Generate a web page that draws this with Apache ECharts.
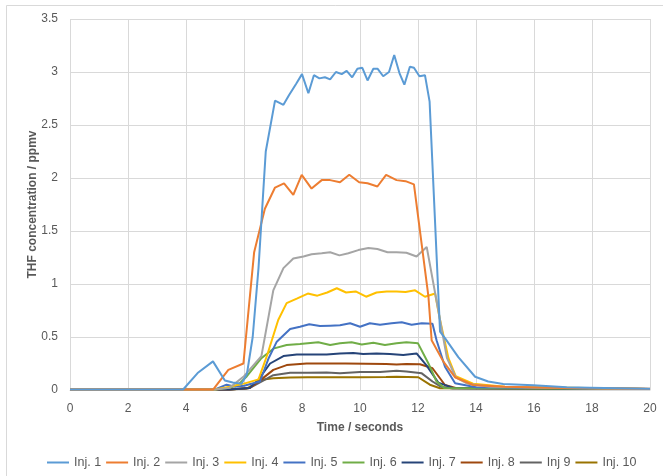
<!DOCTYPE html>
<html>
<head>
<meta charset="utf-8">
<script src="https://cdn.jsdelivr.net/npm/echarts@6/dist/echarts.min.js"></script>
<style>
  html, body { margin: 0; padding: 0; background: #ffffff; }
  #chart { width: 663px; height: 476px; }
</style>
</head>
<body>
<div id="chart"></div>
<script>
// THF concentration (ppmv) vs time (s) for ten injections, as [time, value] pairs
const inj1 = [[0,0.005],[3.9,0.005],[4.4,0.16],[4.93,0.27],[5.34,0.09],[5.61,0.07],[5.92,0.06],[6.1,0.15],[6.3,0.5],[6.5,1.15],[6.75,2.25],[7.07,2.73],[7.36,2.69],[7.55,2.78],[7.8,2.89],[8.0,2.98],[8.22,2.80],[8.41,2.97],[8.6,2.94],[8.79,2.95],[8.97,2.93],[9.17,3.0],[9.37,2.98],[9.54,3.01],[9.73,2.95],[9.91,3.03],[10.08,3.04],[10.26,2.92],[10.46,3.03],[10.61,3.03],[10.8,2.96],[11.0,3.0],[11.18,3.16],[11.36,2.99],[11.53,2.88],[11.72,3.05],[11.86,3.04],[12.05,2.96],[12.24,2.97],[12.4,2.72],[12.76,0.55],[12.93,0.49],[13.39,0.31],[13.97,0.125],[14.42,0.08],[14.94,0.056],[15.98,0.044],[17.13,0.025],[17.93,0.022],[19.4,0.015],[20,0.012]];
const inj2 = [[0,0.005],[4.94,0.005],[5.46,0.19],[5.98,0.25],[6.35,1.3],[6.72,1.71],[7.07,1.91],[7.38,1.95],[7.7,1.84],[7.99,2.03],[8.33,1.9],[8.68,1.98],[8.97,1.98],[9.31,1.96],[9.63,2.03],[9.97,1.96],[10.26,1.95],[10.6,1.92],[10.9,2.03],[11.26,1.98],[11.57,1.97],[11.86,1.94],[12.36,0.88],[12.47,0.47],[12.87,0.27],[13.28,0.12],[13.9,0.047],[15,0.03],[17,0.02],[20,0.012]];
const inj3 = [[0,0.005],[5.0,0.005],[5.5,0.02],[6.0,0.13],[6.6,0.32],[7.01,0.94],[7.36,1.15],[7.7,1.24],[8.05,1.26],[8.33,1.28],[8.68,1.29],[8.97,1.3],[9.29,1.27],[9.6,1.29],[9.94,1.32],[10.29,1.34],[10.6,1.33],[10.95,1.3],[11.26,1.3],[11.6,1.295],[11.95,1.26],[12.3,1.35],[12.7,0.75],[13.0,0.3],[13.3,0.12],[13.7,0.06],[14.5,0.03],[17,0.02],[20,0.01]];
const inj4 = [[0,0.005],[5.0,0.005],[5.5,0.03],[6.0,0.06],[6.5,0.1],[6.8,0.33],[7.18,0.66],[7.47,0.82],[7.84,0.865],[8.2,0.91],[8.53,0.89],[8.87,0.92],[9.2,0.96],[9.52,0.92],[9.85,0.93],[10.21,0.88],[10.57,0.92],[10.92,0.93],[11.26,0.93],[11.57,0.925],[11.9,0.94],[12.24,0.88],[12.59,0.91],[12.76,0.66],[13.05,0.3],[13.3,0.13],[13.9,0.06],[15,0.03],[20,0.01]];
const inj5 = [[0,0.005],[5.0,0.005],[5.4,0.05],[5.7,0.03],[6.0,0.04],[6.55,0.08],[6.85,0.3],[7.13,0.456],[7.59,0.575],[7.93,0.597],[8.25,0.62],[8.62,0.604],[8.97,0.607],[9.31,0.61],[9.66,0.63],[10.0,0.597],[10.34,0.63],[10.69,0.616],[11.09,0.63],[11.44,0.64],[11.78,0.616],[12.13,0.63],[12.5,0.625],[12.64,0.47],[12.93,0.22],[13.28,0.063],[14,0.025],[20,0.01]];
const inj6 = [[0,0.005],[5.0,0.005],[5.5,0.02],[5.8,0.05],[6.1,0.13],[6.6,0.3],[7.01,0.39],[7.47,0.425],[7.93,0.434],[8.56,0.45],[8.97,0.425],[9.31,0.44],[9.71,0.45],[10.06,0.43],[10.46,0.446],[10.86,0.425],[11.26,0.44],[11.6,0.45],[12.0,0.44],[12.36,0.25],[12.64,0.08],[12.9,0.02],[20,0.01]];
const inj7 = [[0,0.005],[5.5,0.005],[6.2,0.02],[6.5,0.1],[6.9,0.25],[7.36,0.32],[7.82,0.335],[8.28,0.335],[8.85,0.335],[9.31,0.345],[9.77,0.35],[10.11,0.34],[10.57,0.345],[11.03,0.34],[11.49,0.33],[11.95,0.345],[12.3,0.23],[12.7,0.07],[13.2,0.02],[20,0.01]];
const inj8 = [[0,0.005],[5.5,0.005],[6.2,0.02],[6.6,0.1],[7.01,0.19],[7.47,0.235],[8.16,0.25],[8.85,0.25],[9.5,0.25],[10.2,0.248],[10.9,0.245],[11.26,0.24],[11.6,0.245],[12.07,0.243],[12.5,0.205],[12.93,0.047],[13.3,0.02],[20,0.01]];
const inj9 = [[0,0.005],[5.5,0.005],[6.2,0.02],[6.6,0.08],[7.01,0.14],[7.59,0.163],[8.2,0.163],[8.85,0.166],[9.31,0.157],[10.0,0.17],[10.69,0.17],[11.26,0.182],[11.6,0.175],[12.13,0.157],[12.5,0.08],[12.8,0.03],[13.2,0.015],[20,0.01]];
const inj10 = [[0,0.005],[5.5,0.005],[6.1,0.015],[6.67,0.1],[7.01,0.11],[7.59,0.117],[8.2,0.12],[9.0,0.12],[10.0,0.12],[10.9,0.122],[11.26,0.126],[12.01,0.12],[12.41,0.05],[12.76,0.016],[20,0.01]];

const seriesNames = ['Inj. 1', 'Inj. 2', 'Inj. 3', 'Inj. 4', 'Inj. 5', 'Inj. 6', 'Inj. 7', 'Inj. 8', 'Inj 9', 'Inj. 10'];
const seriesData = [inj1, inj2, inj3, inj4, inj5, inj6, inj7, inj8, inj9, inj10];
const palette = ['#5B9BD5', '#ED7D31', '#A5A5A5', '#FFC000', '#4472C4', '#70AD47', '#264478', '#9E480E', '#636363', '#997300'];

const FONT = "'Liberation Sans', Arial, sans-serif";
const TEXT = '#595959';
const GRID = '#d9d9d9';

const chart = echarts.init(document.getElementById('chart'), null, { renderer: 'canvas' });
chart.setOption({
  animation: false,
  backgroundColor: '#ffffff',
  color: palette,
  textStyle: { fontFamily: FONT },
  graphic: [{
    type: 'rect',
    shape: { x: 6.5, y: 5.5, width: 700, height: 500 },
    style: { fill: 'none', stroke: GRID, lineWidth: 1 },
    silent: true
  }],
  grid: { left: 70, right: 13, top: 19, bottom: 86, containLabel: false },
  xAxis: {
    type: 'value', min: 0, max: 20, interval: 2,
    name: 'Time / seconds', nameLocation: 'middle', nameGap: 32,
    nameMoveOverlap: false,
    nameTextStyle: { color: TEXT, fontSize: 12, fontWeight: 'bold', fontFamily: FONT },
    axisLine: { show: true, lineStyle: { color: GRID, width: 1 } },
    axisTick: { show: false },
    axisLabel: { color: TEXT, fontSize: 12, margin: 13, fontFamily: FONT },
    splitLine: { show: true, lineStyle: { color: GRID, width: 1 } }
  },
  yAxis: {
    type: 'value', min: 0, max: 3.5, interval: 0.5,
    name: 'THF concentration / ppmv', nameLocation: 'middle', nameGap: 31, nameRotate: 90,
    nameMoveOverlap: false,
    nameTextStyle: { color: TEXT, fontSize: 12, fontWeight: 'bold', fontFamily: FONT },
    axisLine: { show: false },
    axisTick: { show: false },
    axisLabel: { color: TEXT, fontSize: 12, margin: 12, fontFamily: FONT },
    splitLine: { show: true, lineStyle: { color: GRID, width: 1 } }
  },
  legend: {
    left: 47, top: 456, padding: 0,
    icon: 'rect',
    itemWidth: 22, itemHeight: 2, itemGap: 5,
    textStyle: { color: TEXT, fontSize: 12.5, fontFamily: FONT },
    data: seriesNames
  },
  series: seriesNames.map((name, i) => ({
    name: name,
    type: 'line',
    data: seriesData[i],
    symbol: 'none',
    showSymbol: false,
    lineStyle: { width: 2, color: palette[i] },
    itemStyle: { color: palette[i] },
    z: 20 - i
  }))
});
</script>
</body>
</html>
